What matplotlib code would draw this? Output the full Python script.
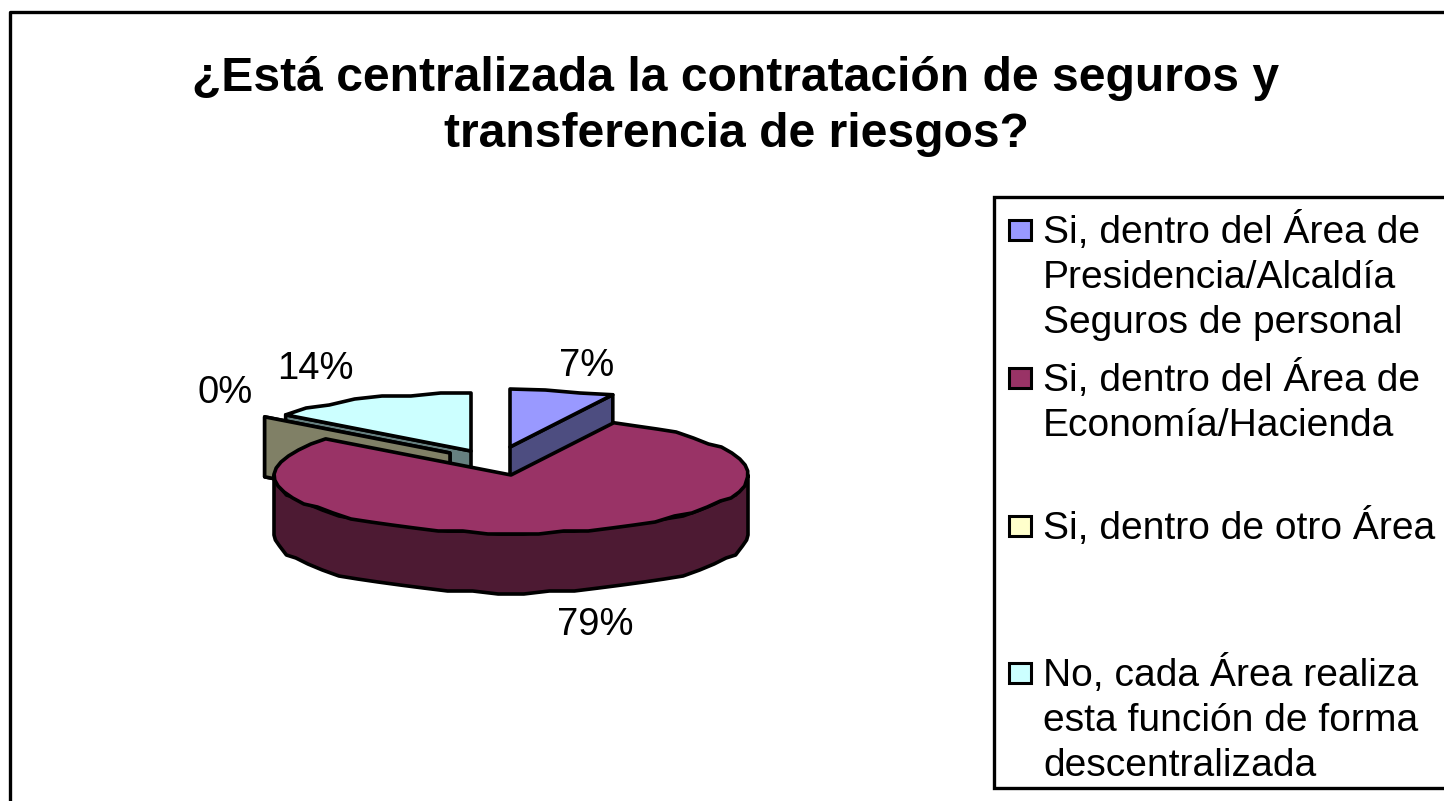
import numpy as np
import matplotlib
matplotlib.use('Agg')
import matplotlib.pyplot as plt
from matplotlib.patches import Polygon, Rectangle

plt.rcParams['font.family'] = ['Liberation Sans', 'DejaVu Sans']

title_lines = ['¿Está centralizada la contratación de seguros y', 'transferencia de riesgos?']
categories = ['Presidencia', 'Economia', 'Otro', 'No']
values = [7.14, 78.57, 0.0, 14.29]
top_colors = ['#9999FF', '#993366', '#FFFFCC', '#CCFFFF']
side_colors = ['#4D4D80', '#4D1A33', '#808066', '#668080']
legend_lines = [
    ['Si, dentro del Área de', 'Presidencia/Alcaldía', 'Seguros de personal'],
    ['Si, dentro del Área de', 'Economía/Hacienda'],
    ['Si, dentro de otro Área'],
    ['No, cada Área realiza', 'esta función de forma', 'descentralizada'],
]

# centro de cada porcion (separadas), en pixeles
centers = [(510, 447), (511, 475), (450, 453), (471, 451)]
label_pos = [(587, 366), (595, 625), (225, 393), (315, 369)]
legend_y = [243, 391, 539, 686]
RX, RY, DEPTH = 237, 58, 60
LW = 2.6
STEP = 3  # el borde original es escalonado

fig = plt.figure(figsize=(14.44, 8.01), dpi=100)
ax = fig.add_axes([0, 0, 1, 1])
ax.set_xlim(0, 1444)
ax.set_ylim(801, 0)
ax.axis('off')


def rim(c, t0, t1):
    # t en grados, sentido horario desde arriba
    n = max(int(abs(t1 - t0) / 6), 2)
    t = np.radians(np.linspace(t0, t1, n))
    pts = np.column_stack([c[0] + RX * np.sin(t), c[1] - RY * np.cos(t)])
    inner = pts[1:-1]
    pts[1:-1, 1] = np.round(inner[:, 1] / STEP) * STEP
    return pts


def poly(pts, color, z):
    ax.add_patch(Polygon(pts, closed=True, fc=color, ec='black', lw=LW, joinstyle='round', zorder=z))


cum = np.cumsum([0] + values) / sum(values) * 360

# orden de dibujo: primero las de atras, la grande encima
for i, z in [(3, 2), (2, 3), (0, 4), (1, 5)]:
    c = centers[i]
    t0, t1 = cum[i], cum[i + 1]
    down = np.array([0, DEPTH])
    apex = np.array(c, dtype=float)
    if i == 1:
        # pared exterior frontal
        arc = rim(c, 90, 270)
        poly(np.vstack([arc, (arc + down)[::-1]]), side_colors[i], z)
    else:
        # caras de corte visibles
        for t in (t0, t1):
            p = rim(c, t, t + 0.01)[0]
            if (i == 0 and t == t1) or (i != 0 and t == t0):
                poly([apex, p, p + down, apex + down], side_colors[i], z)
    if t1 > t0:
        poly(np.vstack([[apex], rim(c, t0, t1)]), top_colors[i], z + 0.5)

for i, v in enumerate(values):
    ax.text(label_pos[i][0], label_pos[i][1], f'{round(v)}%', fontsize=27.5,
            ha='center', va='center', zorder=8)

for i, line in enumerate(title_lines):
    ax.text(736, [91, 147][i], line, fontsize=34.6, fontweight='bold', ha='center', va='baseline')

# marco exterior
ax.plot([10, 10, 1444], [801, 12, 12], color='black', lw=2.4, zorder=1)

# leyenda
ax.add_patch(Rectangle((994, 197), 470, 591, fc='white', ec='black', lw=2.4, zorder=6))
for i, lines in enumerate(legend_lines):
    y = legend_y[i]
    ax.add_patch(Rectangle((1009, y - 23), 22, 20, fc=top_colors[i], ec='black', lw=2.2, zorder=7))
    for j, line in enumerate(lines):
        ax.text(1043, y + j * 45, line, fontsize=28.1, ha='left', va='baseline', zorder=7)

fig.savefig('out.png', dpi=100)
